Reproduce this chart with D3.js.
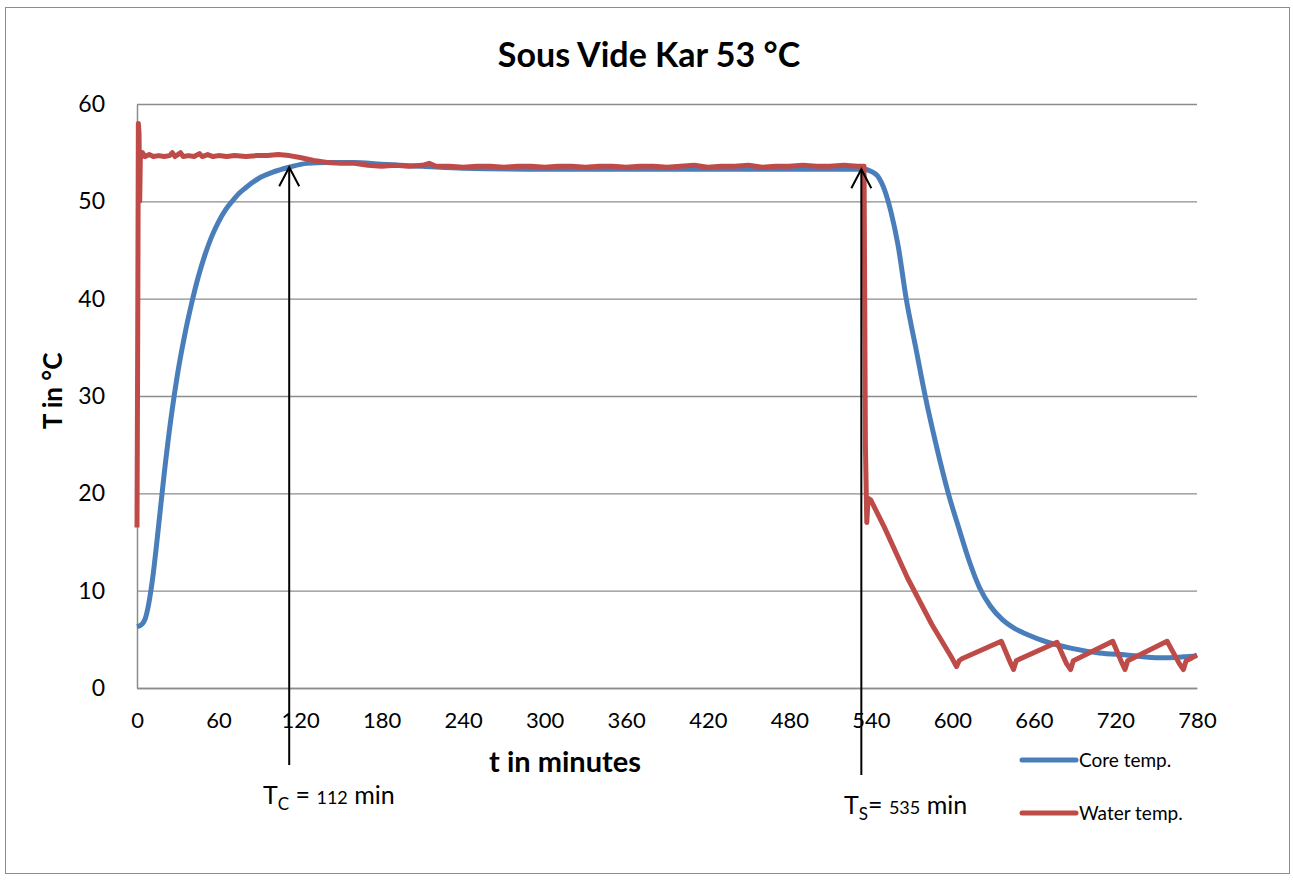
<!DOCTYPE html>
<html>
<head>
<meta charset="utf-8">
<script src="https://cdn.jsdelivr.net/npm/d3@7"></script>
<style>
  body { margin: 0; background: #fff; }
  text { font-family: Lato, "Open Sans", sans-serif; fill: #000; }
</style>
</head>
<body>
<div id="chart"></div>
<script>
// core temperature (blue)
var coreT = [0, 2, 4, 6, 8, 10, 12, 15, 20, 25, 30, 35, 40, 45, 50, 55, 60, 65, 70, 75, 80, 90, 100, 112, 125, 140, 160, 180, 210, 240, 300, 400, 500, 535,
    540, 545, 550, 555, 560, 566, 573, 580, 588, 597, 605, 612, 620, 628, 637, 646, 655, 670, 687, 708, 728, 753, 770, 780];
var coreV = [6.3, 6.4, 6.6, 7.1, 8.2, 9.8, 11.8, 15.5, 22, 27.7, 32.4, 36.2, 39.4, 42.2, 44.5, 46.4, 47.9, 49.1, 50.0, 50.8, 51.4, 52.4, 53.0, 53.5, 53.9, 54.0, 54.0, 53.8, 53.6, 53.4, 53.3, 53.3, 53.3, 53.3,
    53.1, 52.6, 51.2, 48.8, 45.5, 40, 35, 30, 25, 20, 16.3, 13.2, 10.3, 8.4, 7.0, 6.1, 5.5, 4.7, 4.1, 3.6, 3.4, 3.1, 3.2, 3.3];

// water temperature (red)
var waterT = [0, 0.5, 1, 1.5, 2, 2.5, 3, 4, 6, 9, 12, 16, 20, 24, 26, 28, 32, 34, 38, 42, 46, 48, 52, 56, 60, 66, 72, 80, 88, 96, 104, 112,
    120, 130, 140, 150, 160, 170, 180, 190, 200, 210, 215, 220, 230, 240, 250, 260, 270, 280, 290, 300, 310, 320, 330, 340, 350, 360,
    370, 380, 390, 400, 410, 420, 430, 440, 450, 460, 470, 480, 490, 500, 510, 520, 530, 535,
    536, 537, 538, 540, 550, 567, 585, 600, 603, 605, 607,
    636, 643, 645, 647, 650, 677, 684, 687, 689, 692, 718, 725, 727, 729, 732, 758, 767, 770, 772, 775, 780];
var waterV = [16.5, 35, 58, 57, 50, 55, 54.5, 55, 54.6, 54.8, 54.6, 54.7, 54.6, 54.7, 55.0, 54.6, 55.0, 54.6, 54.7, 54.6, 54.9, 54.6, 54.8, 54.6, 54.7, 54.6, 54.7, 54.6, 54.7, 54.7, 54.8, 54.7,
    54.5, 54.2, 54.0, 53.9, 53.9, 53.7, 53.6, 53.7, 53.6, 53.7, 53.9, 53.6, 53.6, 53.5, 53.6, 53.6, 53.5, 53.6, 53.6, 53.5, 53.6, 53.6, 53.5, 53.6, 53.6, 53.5,
    53.6, 53.6, 53.5, 53.6, 53.7, 53.5, 53.6, 53.6, 53.7, 53.5, 53.6, 53.6, 53.7, 53.6, 53.6, 53.7, 53.6, 53.6,
    25, 17, 19.5, 19.3, 16.5, 11.3, 6.5, 3.0, 2.2, 2.8, 3.0,
    4.8, 2.5, 1.9, 2.8, 3.0, 4.7, 2.5, 1.9, 2.8, 3.0, 4.8, 2.5, 1.9, 2.8, 3.0, 4.8, 2.5, 1.9, 2.8, 3.0, 3.4];

var xTicks = [0, 60, 120, 180, 240, 300, 360, 420, 480, 540, 600, 660, 720, 780];
var yTicks = [0, 10, 20, 30, 40, 50, 60];

var width = 1293, height = 880;
var margin = {left: 137, right: 96, top: 104, bottom: 192};

var svg = d3.select("#chart")
    .append("svg")
    .attr("width", width)
    .attr("height", height);

// outer frame
svg.append("rect")
    .attr("x", 5.5).attr("y", 7.5)
    .attr("width", 1284).attr("height", 866)
    .attr("fill", "none")
    .attr("stroke", "#8c8c8c");

var x = d3.scaleLinear().domain([0, 780]).range([margin.left, width - margin.right]);
var y = d3.scaleLinear().domain([0, 60]).range([height - margin.bottom, margin.top]);

// gridlines
svg.append("g")
    .attr("transform", "translate(" + margin.left + ",0)")
    .call(d3.axisLeft(y).tickValues(yTicks).tickSize(-(x(780) - x(0))).tickFormat(""))
    .call(function (g) {
        g.select(".domain").remove();
        g.selectAll("line").attr("stroke", "#8c8c8c").attr("stroke-width", 1.3);
    });

// y axis
svg.append("g")
    .attr("transform", "translate(" + margin.left + ",0)")
    .call(d3.axisLeft(y).tickValues(yTicks).tickSize(0).tickPadding(32))
    .call(function (g) {
        g.select(".domain").attr("stroke", "#8c8c8c").attr("stroke-width", 1.5);
        g.selectAll("text").attr("font-size", "23px").attr("font-family", "Lato, sans-serif");
    });

// x axis
svg.append("g")
    .attr("transform", "translate(0," + y(0) + ")")
    .call(d3.axisBottom(x).tickValues(xTicks).tickSize(0).tickPadding(24))
    .call(function (g) {
        g.select(".domain").attr("stroke", "#8c8c8c").attr("stroke-width", 1.5);
        g.selectAll("text").attr("font-size", "22px").attr("font-family", "Lato, sans-serif");
    });

var line = d3.line()
    .x(function (d) { return x(d[0]); })
    .y(function (d) { return y(d[1]); })
    .curve(d3.curveMonotoneX);

var core = d3.zip(coreT, coreV);
var water = d3.zip(waterT, waterV);

svg.append("path")
    .datum(core)
    .attr("d", line)
    .attr("fill", "none")
    .attr("stroke", "#4a7ebb")
    .attr("stroke-width", 5)
    .attr("stroke-linejoin", "round");

svg.append("path")
    .datum(water)
    .attr("d", line.curve(d3.curveLinear))
    .attr("fill", "none")
    .attr("stroke", "#be4b48")
    .attr("stroke-width", 5)
    .attr("stroke-linejoin", "round");

// title
svg.append("text")
    .attr("x", 649).attr("y", 67)
    .attr("text-anchor", "middle")
    .attr("font-size", "34px")
    .attr("font-weight", "bold")
    .text("Sous Vide Kar 53 °C");

svg.append("text")
    .attr("x", 565).attr("y", 772)
    .attr("text-anchor", "middle")
    .attr("font-size", "29px")
    .attr("font-weight", "bold")
    .text("t in minutes");

svg.append("text")
    .attr("transform", "translate(62," + 391 + ") rotate(-90)")
    .attr("text-anchor", "middle")
    .attr("font-size", "26px")
    .attr("font-weight", "bold")
    .text("T in °C");

// arrows
var arrows = [
    {t: 112, v: 53.5, bottom: 765, label: ["T", "C", " = ", "112", " min"], lx: 263, ly: 804},
    {t: 533, v: 53.3, bottom: 775, label: ["T", "S", "= ", "535", " min"], lx: 844, ly: 814}
];

arrows.forEach(function (a) {
    var ax = x(a.t), ay = y(a.v);
    svg.append("line")
        .attr("x1", ax).attr("y1", a.bottom)
        .attr("x2", ax).attr("y2", ay)
        .attr("stroke", "#000").attr("stroke-width", 2);
    svg.append("path")
        .attr("d", "M" + (ax - 10) + "," + (ay + 19) + "L" + ax + "," + ay + "L" + (ax + 10) + "," + (ay + 19))
        .attr("fill", "none")
        .attr("stroke", "#000").attr("stroke-width", 2);

    var t = svg.append("text").attr("x", a.lx).attr("y", a.ly).attr("font-size", "25px");
    t.append("tspan").text(a.label[0]);
    t.append("tspan").attr("font-size", "17px").attr("dy", 6).text(a.label[1]);
    t.append("tspan").attr("dy", -6).text(a.label[2]);
    t.append("tspan").attr("font-size", "18px").text(a.label[3]);
    t.append("tspan").text(a.label[4]);
});

// legend
var legend = [
    {name: "Core temp.", color: "#4a7ebb", y: 760},
    {name: "Water temp.", color: "#be4b48", y: 813}
];
legend.forEach(function (l) {
    svg.append("line")
        .attr("x1", 1022).attr("x2", 1076)
        .attr("y1", l.y).attr("y2", l.y)
        .attr("stroke", l.color).attr("stroke-width", 5)
        .attr("stroke-linecap", "round");
    svg.append("text")
        .attr("x", 1079).attr("y", l.y + 7)
        .attr("font-size", "19px")
        .text(l.name);
});
</script>
</body>
</html>
